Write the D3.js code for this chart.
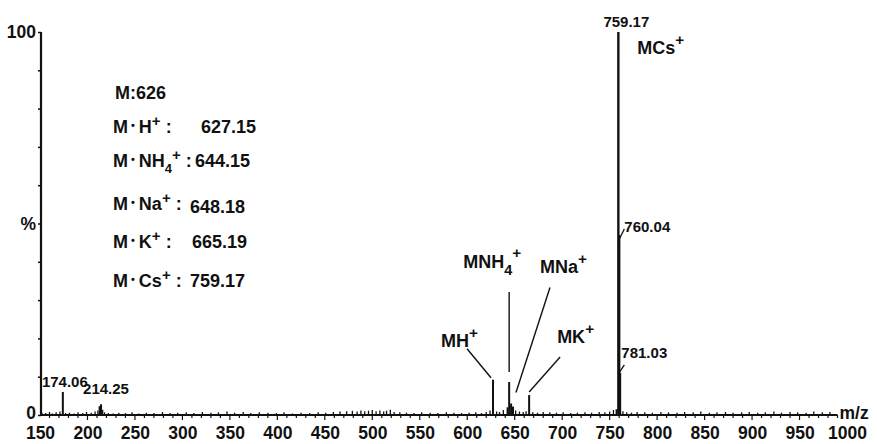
<!DOCTYPE html>
<html><head><meta charset="utf-8">
<script src="https://cdn.jsdelivr.net/npm/d3@7"></script>
<style>
body{margin:0;background:#fff}
svg{display:block}
text{font-family:"Liberation Sans",Arial,Helvetica,sans-serif;font-weight:bold;fill:#111}
</style>
</head><body>
<svg id="c" width="877" height="444"></svg>
<script>
// ---------- data ----------
const xTickValues = [150,200,250,300,350,400,450,500,550,600,650,700,750,800,850,900,950,1000];
const yTickValues = [0,10,20,30,40,50,60,70,80,90,100];
const yTickLabels = {0:"0", 50:"%", 100:"100"};
const xDomain = [150, 1000];
const axisEndMz = 990;

// main peaks (m/z, relative intensity %)
const peakMz  = [174.06, 214.25, 212.8, 627.15, 642.5, 644.15, 646.2, 648.18, 665.19, 757.3, 759.17, 760.04, 761.1];
const peakInt = [6.0,    2.8,    2.3,   9.2,    2.0,   8.6,    3.0,   2.2,    5.2,    1.5,   100,    47,     11];

// baseline noise
const noiseMz  = [152,156,160,163,167,171,177,181,186,190,195,199,204,208,211,216,218,222,227,233,240,247,254,262,270,279,287,295,304,312,321,330,338,347,355,364,372,381,390,399,407,416,425,434,443,451,459,466,473,479,484,488,492,496,500,504,508,512,515,519,523,529,536,544,552,561,569,578,586,594,602,609,615,620,624,631,634,638,651,655,659,662,669,674,680,687,694,701,709,716,724,731,739,745,750,754,764,768,773,779,787,795,804,812,821,829,838,846,855,863,872,880,889,897,906,914,923,931,940,948,957,965,974,982];
const noiseInt = [0.6,0.5,0.8,0.4,0.7,0.9,0.5,0.6,0.4,0.7,0.5,0.8,0.6,0.9,1.2,1.4,0.7,0.5,0.4,0.6,0.5,0.7,0.4,0.6,0.5,0.8,0.5,0.6,0.7,0.5,0.8,0.6,0.7,0.9,0.6,0.8,0.5,0.7,0.6,0.5,0.7,0.4,0.6,0.5,0.7,0.6,0.8,0.9,1.0,1.1,0.9,1.2,1.0,1.1,1.3,1.0,1.2,0.9,1.1,1.4,0.8,0.7,0.6,0.5,0.7,0.6,0.5,0.7,0.6,0.5,0.6,0.7,0.5,0.8,1.2,0.9,0.8,1.3,1.2,0.9,0.8,1.0,0.7,0.6,0.8,0.7,0.6,0.7,0.5,0.6,0.7,0.6,0.8,0.7,0.9,1.3,1.0,0.7,0.6,0.8,0.7,0.6,0.8,0.7,0.6,0.8,0.7,0.9,0.6,0.7,0.8,0.6,0.7,0.8,0.6,0.7,0.9,0.6,0.8,0.7,0.6,0.9,0.7,0.8];

// annotation texts
const compoundLine = "M:626";
const adductIons   = ["H","NH4","Na","K","Cs"];
const adductValues = ["627.15","644.15","648.18","665.19","759.17"];
const peakLabels   = ["174.06","214.25","759.17","760.04","781.03"];
const peakLabelAnchorMz  = [174.06, 214.25, 759.17, 759.17, 759.17];
const peakLabelAnchorInt = [6.0, 2.8, 100, 47, 11];
const ionLabels = ["MH","MNH4","MNa","MK","MCs"];
const ionAnchorMz  = [627.15, 644.15, 648.18, 665.19, 759.17];
const ionAnchorInt = [9.2, 8.6, 2.2, 5.2, 100];
const xAxisTitle = "m/z";

// ---------- layout ----------
const W = 877, H = 444;
const x = d3.scaleLinear().domain(xDomain).range([40, 847]);
const y = d3.scaleLinear().domain([0, 100]).range([415, 32]);
const svg = d3.select("#c");

const peakLabelLayout = [
  {dx: 2,  dy: -5,  anchor: "middle", lead: null},
  {dx: 5,  dy: -10, anchor: "middle", lead: null},
  {dx: 8,  dy: -5,  anchor: "middle", lead: null},
  {dx: 6,  dy: -3,  anchor: "start",  lead: [[0, 6], [6, -6]]},
  {dx: 3,  dy: -15, anchor: "start",  lead: [[0, 1], [6, -8]]}
];
const ionLayout = [
  {tx: -52, ty: -33, lead: [[-26, -31], [-2, -2]]},
  {tx: -46, ty: -114, lead: [[0, -90], [0, -10]]},
  {tx: 27,  ty: -134, lead: [[37, -119], [3, -14]]},
  {tx: 28,  ty: -52,  lead: [[31, -38], [0, -3]]},
  {tx: 19,  ty: 22,   lead: null}
];

// ---------- noise & peaks ----------
const g = svg.append("g");
g.selectAll("line.noise").data(noiseMz).join("line")
  .attr("class","noise")
  .attr("x1", d => x(d)).attr("x2", d => x(d))
  .attr("y1", y(0)).attr("y2", (d,i) => y(noiseInt[i]))
  .attr("stroke", "#111").attr("stroke-width", 1.3);

g.selectAll("line.peak").data(peakMz).join("line")
  .attr("class","peak")
  .attr("x1", d => x(d)).attr("x2", d => x(d))
  .attr("y1", y(0)).attr("y2", (d,i) => y(peakInt[i]))
  .attr("stroke", "#111").attr("stroke-width", (d,i) => peakInt[i] > 40 ? 2.4 : 2);

// ---------- axes ----------
svg.append("line")
  .attr("x1", x(xDomain[0])).attr("x2", x(axisEndMz))
  .attr("y1", y(0)).attr("y2", y(0))
  .attr("stroke", "#111").attr("stroke-width", 2);
const minorX = d3.range(160, axisEndMz + 1, 10);
svg.selectAll("line.minx").data(minorX).join("line")
  .attr("x1", d => x(d)).attr("x2", d => x(d))
  .attr("y1", y(0)).attr("y2", d => y(0) + (d % 50 === 0 ? 5 : 3))
  .attr("stroke", "#111").attr("stroke-width", 1.2);

const xAxis = d3.axisBottom(x).tickValues(xTickValues).tickSize(0).tickPadding(0).tickFormat(d3.format("d"));
const xg = svg.append("g").attr("transform", `translate(0,${y(0)})`).call(xAxis);
xg.select(".domain").remove();
xg.selectAll("text").attr("font-size", 17.5).attr("font-family", "Liberation Sans, Arial, sans-serif")
  .attr("font-weight", "bold").attr("fill", "#111").attr("dy", null).attr("y", 24);

svg.append("text").attr("x", x(axisEndMz) + 2).attr("y", y(0) + 4)
  .attr("font-size", 17.5).text(xAxisTitle);

svg.append("line")
  .attr("x1", x(xDomain[0]) + 1).attr("x2", x(xDomain[0]) + 1)
  .attr("y1", y(100)).attr("y2", y(0))
  .attr("stroke", "#111").attr("stroke-width", 2.2);
const yAxis = d3.axisLeft(y).tickValues(yTickValues).tickSize(3).tickPadding(2)
  .tickFormat(d => yTickLabels[d] || "");
const yg = svg.append("g").attr("transform", `translate(${x(xDomain[0]) + 1},0)`).call(yAxis);
yg.select(".domain").remove();
yg.selectAll(".tick line").attr("stroke", "#111").attr("stroke-width", 1.5);
yg.selectAll("text").attr("font-size", 17.5).attr("font-family", "Liberation Sans, Arial, sans-serif")
  .attr("font-weight", "bold").attr("fill", "#111")
  .attr("dy", d => d === 0 ? "0.22em" : "0.32em");

// ---------- peak value labels ----------
peakLabels.forEach((t, i) => {
  const ax = x(peakLabelAnchorMz[i]), ay = y(peakLabelAnchorInt[i]);
  const L = peakLabelLayout[i];
  svg.append("text").attr("x", ax + L.dx).attr("y", ay + L.dy)
    .attr("text-anchor", L.anchor).attr("font-size", 15).text(t);
  if (L.lead) {
    svg.append("line")
      .attr("x1", ax + L.lead[0][0]).attr("y1", ay + L.lead[0][1])
      .attr("x2", ax + L.lead[1][0]).attr("y2", ay + L.lead[1][1])
      .attr("stroke", "#111").attr("stroke-width", 1.3);
  }
});

// ---------- ion labels ----------
function ionText(sel, ion, size) {
  const m = ion.match(/^(.*?)(\d*)$/);
  sel.append("tspan").text(m[1]);
  if (m[2]) sel.append("tspan").attr("font-size", size * 0.8).attr("dy", 7).text(m[2]);
  sel.append("tspan").attr("font-size", size * 0.85).attr("dy", m[2] ? -17 : -9).text("+");
}
ionLabels.forEach((t, i) => {
  const ax = x(ionAnchorMz[i]), ay = y(ionAnchorInt[i]);
  const L = ionLayout[i];
  const tx = svg.append("text").attr("x", ax + L.tx).attr("y", ay + L.ty).attr("font-size", 18);
  ionText(tx, t, 18);
  if (L.lead) {
    svg.append("line")
      .attr("x1", ax + L.lead[0][0]).attr("y1", ay + L.lead[0][1])
      .attr("x2", ax + L.lead[1][0]).attr("y2", ay + L.lead[1][1])
      .attr("stroke", "#111").attr("stroke-width", 1.4);
  }
});

// ---------- adduct list ----------
const listX = 113, listY0 = 99, valueX = [201, 195, 190, 192, 190];
const lineY = [133, 167, 210, 248, 287];
svg.append("text").attr("x", listX + 2).attr("y", listY0).attr("font-size", 18).text(compoundLine);
adductIons.forEach((ion, i) => {
  const t = svg.append("text").attr("x", listX).attr("y", lineY[i]).attr("font-size", 18);
  t.append("tspan").text("M");
  t.append("tspan").attr("font-size", 11).attr("dx", 3).attr("dy", -4).text("•");
  const m = ion.match(/^(.*?)(\d*)$/);
  t.append("tspan").attr("dx", 4).attr("dy", 4).text(m[1]);
  if (m[2]) t.append("tspan").attr("font-size", 13).attr("dy", 6).text(m[2]);
  t.append("tspan").attr("font-size", 15).attr("dy", m[2] ? -13 : -7).text("+");
  t.append("tspan").attr("dx", 5).attr("dy", 7).text(":");
  svg.append("text").attr("x", valueX[i]).attr("y", lineY[i] + (i === 2 ? 3 : 0)).attr("font-size", 18).text(adductValues[i]);
});
</script>
</body></html>
